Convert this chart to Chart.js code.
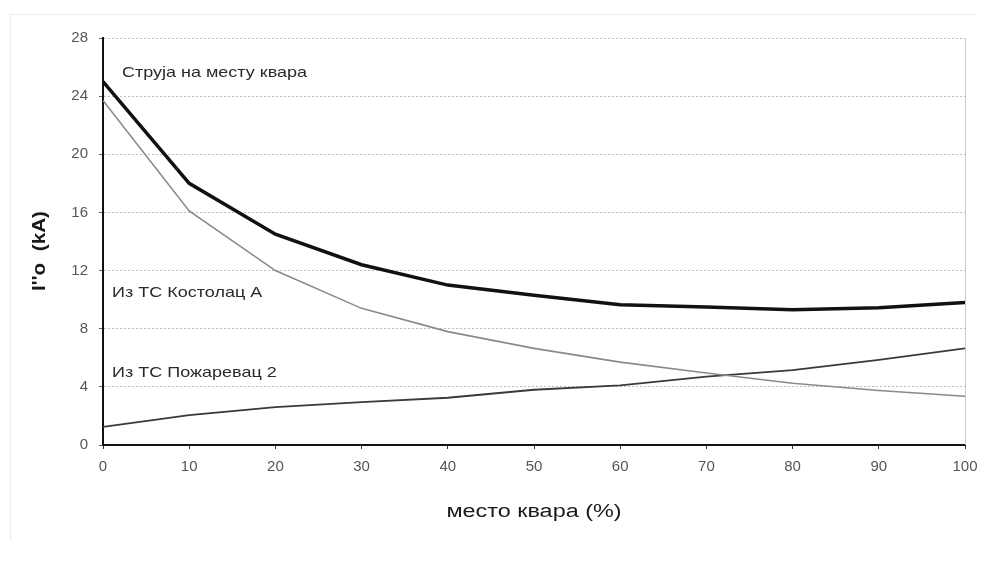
<!DOCTYPE html>
<html><head><meta charset="utf-8">
<script src="https://cdn.jsdelivr.net/npm/chart.js@4"></script>
<style>html,body{margin:0;padding:0;background:#fff}#wrap{width:983px;height:562px;position:relative}</style>
</head><body><div id="wrap"><canvas id="c" width="983" height="562"></canvas></div>
<script>
const positions = [0,10,20,30,40,50,60,70,80,90,100];
const faultCurrent = [25.0,18.0,14.5,12.4,11.0,10.3,9.65,9.5,9.3,9.45,9.8];
const fromKostolac = [23.7,16.1,12.0,9.4,7.8,6.65,5.7,4.95,4.25,3.75,3.35];
const fromPozarevac = [1.25,2.05,2.6,2.95,3.25,3.8,4.1,4.7,5.15,5.85,6.65];
const yTicks = [0,4,8,12,16,20,24,28];
const labels = [
  {text:'Струја на месту квара', x:2.2, y:25.6},
  {text:'Из ТС Костолац А', x:1.05, y:10.45},
  {text:'Из ТС Пожаревац 2', x:1.05, y:4.95}
];
const xTitle = 'место квара (%)';
const yTitle = "I''o  (kA)";

const pts = arr => positions.map((x,i)=>({x, y:arr[i]}));
const FONT = '"Liberation Sans", Arial, sans-serif';

function stretchText(ctx, t, px, py, sx){
  ctx.save(); ctx.translate(px, py); ctx.scale(sx, 1); ctx.fillText(t, 0, 0); ctx.restore();
}

const decor = {
  id:'decor',
  beforeDraw(chart){
    const {ctx} = chart;
    ctx.save();
    ctx.strokeStyle = '#ececec'; ctx.lineWidth = 1;
    ctx.beginPath(); ctx.moveTo(10,14.5); ctx.lineTo(975,14.5); ctx.stroke();
    ctx.beginPath(); ctx.moveTo(10.5,14); ctx.lineTo(10.5,540); ctx.stroke();
    ctx.restore();
  },
  afterDatasetsDraw(chart){
    const {ctx, scales:{x,y}, chartArea:a} = chart;
    ctx.save();
    ctx.strokeStyle = '#c8c8c8'; ctx.lineWidth = 1;
    ctx.beginPath(); ctx.moveTo(a.right+0.5, a.top); ctx.lineTo(a.right+0.5, a.bottom); ctx.stroke();
    ctx.fillStyle = '#2a2a2a';
    ctx.font = '15px ' + FONT;
    ctx.textBaseline = 'middle'; ctx.textAlign = 'left';
    labels.forEach(l => stretchText(ctx, l.text, x.getPixelForValue(l.x), y.getPixelForValue(l.y), 1.2));
    ctx.font = '18px ' + FONT;
    ctx.textAlign = 'center';
    ctx.fillStyle = '#1a1a1a';
    stretchText(ctx, xTitle, (a.left+a.right)/2, 512, 1.3);
    ctx.translate(40, 251);
    ctx.rotate(-Math.PI/2);
    ctx.font = 'bold 18px ' + FONT;
    stretchText(ctx, yTitle, 0, 0, 1.15);
    ctx.restore();
  }
};

new Chart(document.getElementById('c'), {
  type:'line',
  data:{datasets:[
    {label:'Струја на месту квара', data:pts(faultCurrent), borderColor:'#111', borderWidth:3.5, pointRadius:0, tension:0},
    {label:'Из ТС Костолац А', data:pts(fromKostolac), borderColor:'#8a8a8a', borderWidth:1.6, pointRadius:0, tension:0},
    {label:'Из ТС Пожаревац 2', data:pts(fromPozarevac), borderColor:'#3a3a3a', borderWidth:1.8, pointRadius:0, tension:0}
  ]},
  options:{
    responsive:false, animation:false,
    layout:{padding:{top:38,right:0,left:0,bottom:0}},
    plugins:{legend:{display:false}, tooltip:{enabled:false}},
    scales:{
      x:{type:'linear', min:0, max:100,
        afterBuildTicks: s => { s.ticks = positions.map(v=>({value:v})); },
        afterFit: s => { s.height = 117; s.paddingRight = 18; s.paddingLeft = 0; },
        grid:{drawOnChartArea:false, drawTicks:true, tickLength:4, color:'#333'},
        border:{color:'#111', width:2},
        ticks:{color:'#555', font:{size:15, family:FONT}, padding:9, maxRotation:0, autoSkip:false}
      },
      y:{min:0, max:28,
        afterBuildTicks: s => { s.ticks = yTicks.map(v=>({value:v})); },
        afterFit: s => { s.width = 103; },
        grid:{color:'#bdbdbd', lineWidth:1, drawTicks:true, tickLength:4, tickColor:'#666'},
        border:{color:'#111', width:2, dash:[2,2]},
        ticks:{color:'#555', font:{size:15, family:FONT}, padding:11}
      }
    }
  },
  plugins:[decor]
});
</script></body></html>
